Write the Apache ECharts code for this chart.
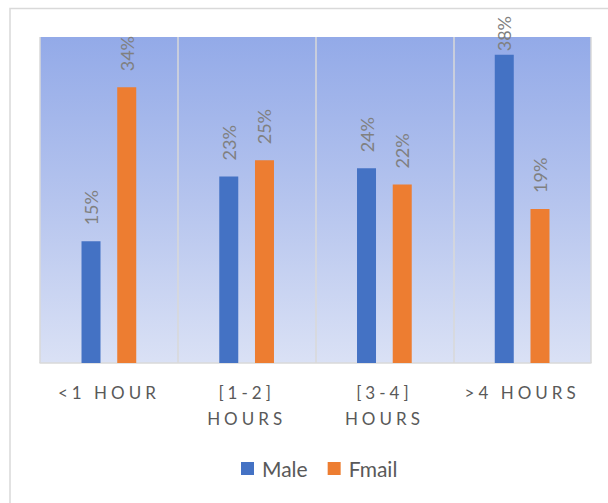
<!DOCTYPE html>
<html>
<head>
<meta charset="utf-8">
<script src="https://cdn.jsdelivr.net/npm/echarts@6/dist/echarts.min.js"></script>
<style>
html,body{margin:0;padding:0;background:#fff;}
#chart{width:608px;height:503px;}
</style>
</head>
<body>
<div id="chart"></div>
<script>
var categories = ['<1 HOUR', '[1-2]\nHOURS', '[3-4]\nHOURS', '>4 HOURS'];
var male = [15, 23, 24, 38];
var fmail = [34, 25, 22, 19];
var seriesNames = ['Male', 'Fmail'];

var labelLines = [];
categories.forEach(function (c) { c.split('\n').forEach(function (l) { labelLines.push(l); }); });

var chart = echarts.init(document.getElementById('chart'), null, { renderer: 'svg' });

var LABEL_DIST = 16;
var dataLabel = {
  show: true,
  position: 'top',
  rotate: 90,
  align: 'left',
  verticalAlign: 'middle',
  distance: LABEL_DIST,
  color: '#808080',
  fontFamily: 'Lato',
  fontSize: 18,
  formatter: function (p) { return p.value + '%'; }
};

// keep labels inside the chart box (like the original, which pushes the tallest label down)
function keepInside(params) {
  var minTop = 16;
  if (params.labelRect && params.labelRect.y < minTop) {
    var anchorY = params.rect.y - LABEL_DIST;
    return { y: anchorY + (minTop - params.labelRect.y) };
  }
  return {};
}

chart.setOption({
  animation: false,
  backgroundColor: '#ffffff',
  graphic: [{
    type: 'rect',
    shape: { x: 10, y: 8.5, width: 700, height: 600 },
    style: { fill: 'none', stroke: '#d9d9d9', lineWidth: 1.5 },
    silent: true,
    z: -10
  }],
  grid: {
    left: 40, right: 17, top: 37, bottom: 140,
    show: true,
    borderWidth: 0,
    backgroundColor: {
      type: 'linear', x: 0, y: 0, x2: 0, y2: 1,
      colorStops: [
        { offset: 0, color: '#93aae8' },
        { offset: 0.5, color: '#b5c4ee' },
        { offset: 1, color: '#dae1f5' }
      ]
    }
  },
  legend: {
    data: seriesNames,
    left: 236,
    top: 453,
    icon: 'rect',
    itemWidth: 13,
    itemHeight: 13,
    itemGap: 20,
    textStyle: { color: '#595959', fontFamily: 'Lato', fontSize: 21, padding: [0, 0, 0, 3] }
  },
  xAxis: {
    type: 'category',
    data: categories,
    axisLine: { show: true, lineStyle: { color: '#d9d9d9', width: 1.5 } },
    axisTick: { show: false },
    splitLine: { show: true, lineStyle: { color: '#d9d9d9', width: 1.5 } },
    axisLabel: {
      color: '#595959',
      fontFamily: 'Lato',
      fontSize: 17,
      lineHeight: 26,
      margin: 16,
      interval: 0
    }
  },
  yAxis: {
    type: 'value',
    min: 0,
    max: 40.2,
    show: false,
    splitLine: { show: false }
  },
  series: [
    {
      name: seriesNames[0], type: 'bar', data: male,
      barWidth: 19, barGap: '88%',
      itemStyle: { color: '#4472c4' },
      label: dataLabel,
      labelLayout: keepInside
    },
    {
      name: seriesNames[1], type: 'bar', data: fmail,
      barWidth: 19,
      itemStyle: { color: '#ed7d31' },
      label: dataLabel,
      labelLayout: keepInside
    }
  ]
});

function applySpacing() {
  var texts = document.querySelectorAll('#chart svg text');
  texts.forEach(function (t) {
    if (labelLines.indexOf(t.textContent) >= 0) {
      t.style.letterSpacing = '4px';
    }
  });
}
chart.on('finished', applySpacing);
applySpacing();
setTimeout(applySpacing, 50);
</script>
</body>
</html>
